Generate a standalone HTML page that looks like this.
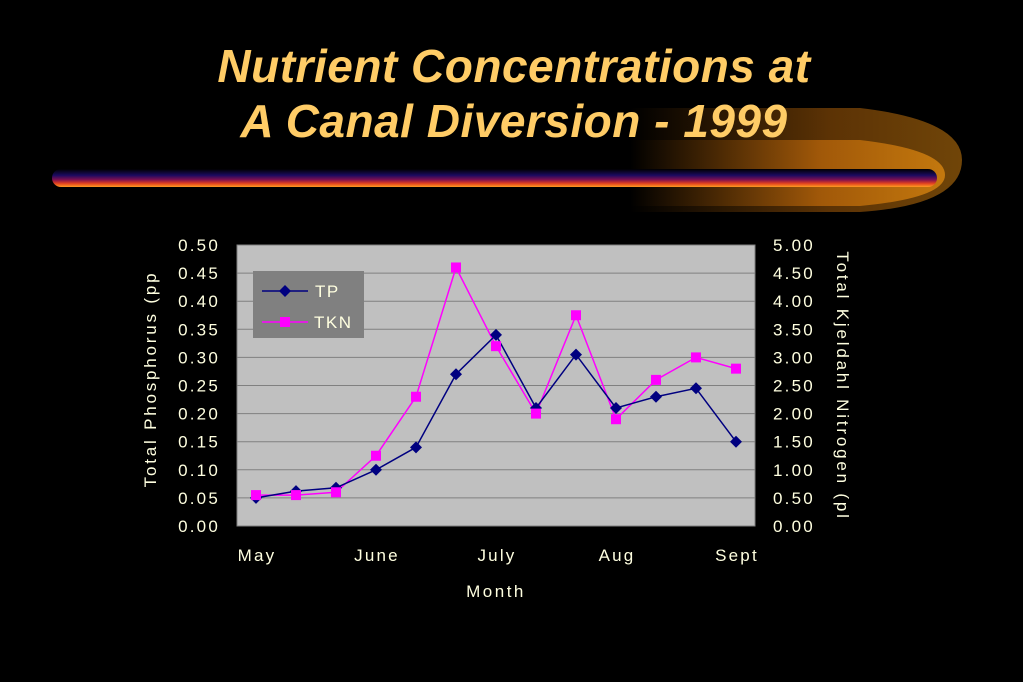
<!DOCTYPE html>
<html><head><meta charset="utf-8"><style>
body{margin:0;background:#000;width:1023px;height:682px;overflow:hidden;font-family:"Liberation Sans",sans-serif}
svg{display:block}
</style></head><body>
<svg width="1023" height="682">
<defs>
<linearGradient id="sw" x1="0" x2="1" y1="0" y2="0">
<stop offset="0" stop-color="#000"/><stop offset="0.6" stop-color="#b8650a"/><stop offset="1" stop-color="#e08a10"/></linearGradient>
<linearGradient id="bar" x1="0" x2="0" y1="0" y2="1">
<stop offset="0" stop-color="#000"/><stop offset="0.35" stop-color="#1a0a60"/><stop offset="0.6" stop-color="#801050"/><stop offset="0.8" stop-color="#e04020"/><stop offset="1" stop-color="#ff9a20"/></linearGradient>
</defs>
<g>
<path d="M630 108 L860 108 Q962 120 962 160 Q962 205 860 212 L630 212 Z" fill="url(#sw)" opacity="0.5"/>
<path d="M630 140 L860 140 Q945 150 945 175 Q945 198 860 206 L630 206 Z" fill="url(#sw)" opacity="0.75"/>
<rect x="52" y="169" width="885" height="18" rx="9" fill="url(#bar)"/>
</g>
<text x="514" y="82" text-anchor="middle" font-size="46" font-weight="bold" font-style="italic" fill="#ffcc66" letter-spacing="0.5">Nutrient Concentrations at</text>
<text x="514" y="137" text-anchor="middle" font-size="46" font-weight="bold" font-style="italic" fill="#ffcc66" letter-spacing="0.5">A Canal Diversion - 1999</text>
<g id="chart"></g>
</svg>
<script>
const categories=["May","","","June","","","July","","","Aug","","","Sept"];
const tpValues=[0.05,0.062,0.068,0.10,0.14,0.27,0.34,0.21,0.305,0.21,0.23,0.245,0.15];
const tknValues=[0.55,0.55,0.6,1.25,2.3,4.6,3.2,2.0,3.75,1.9,2.6,3.0,2.8];
const leftTicks=["0.00","0.05","0.10","0.15","0.20","0.25","0.30","0.35","0.40","0.45","0.50"];
const rightTicks=["0.00","0.50","1.00","1.50","2.00","2.50","3.00","3.50","4.00","4.50","5.00"];
const NS="http://www.w3.org/2000/svg";
const g=document.getElementById('chart');
const L=237,R=755,T=245,B=526,TXT="#ffffe0",LS=2.2;
const x=i=>256+i*(736-256)/(categories.length-1);
const yl=v=>B-(v/0.5)*(B-T);
const yr=v=>B-(v/5)*(B-T);
function mk(tag,attrs,txt){const e=document.createElementNS(NS,tag);for(const k in attrs)e.setAttribute(k,attrs[k]);if(txt!==undefined)e.textContent=txt;g.appendChild(e);return e;}
let e=mk('rect',{x:L,y:T,width:R-L,height:B-T,fill:'#c0c0c0',stroke:'#808080'});

leftTicks.forEach((t,i)=>{const v=i*0.05,y=yl(v);
 if(i>0&&i<leftTicks.length-1){const l=mk('line',{x1:L,x2:R,y1:y,y2:y,stroke:'#808080'});}
 const a=mk('text',{x:220,y:y+6,'text-anchor':'end','font-size':17,'letter-spacing':LS,fill:TXT},t);});
rightTicks.forEach((t,i)=>{const y=yr(i*0.5);
 const a=mk('text',{x:773,y:y+6,'font-size':17,'letter-spacing':LS,fill:TXT},t);});
categories.forEach((c,i)=>{if(!c)return;const a=mk('text',{x:x(i)+1,y:561,'text-anchor':'middle','font-size':17,'letter-spacing':LS,fill:TXT},c);});
e=mk('text',{x:496,y:597,'text-anchor':'middle','font-size':17,'letter-spacing':2.5,fill:TXT},'Month');
e=mk('text',{x:0,y:0,'text-anchor':'middle','font-size':17,'letter-spacing':2.8,fill:TXT,transform:'translate(156 379) rotate(-90)'},'Total Phosphorus (pp');
e=mk('text',{x:0,y:0,'text-anchor':'middle','font-size':17,'letter-spacing':2.8,fill:TXT,transform:'translate(837 386) rotate(90)'},'Total Kjeldahl Nitrogen (pl');
e=mk('polyline',{points:tknValues.map((v,i)=>x(i)+','+yr(v)).join(' '),fill:'none',stroke:'#ff00ff','stroke-width':1.5});
e=mk('polyline',{points:tpValues.map((v,i)=>x(i)+','+yl(v)).join(' '),fill:'none',stroke:'#000080','stroke-width':1.5});
tpValues.forEach((v,i)=>{const cx=x(i),cy=yl(v);const p=mk('polygon',{points:`${cx},${cy-6} ${cx+6},${cy} ${cx},${cy+6} ${cx-6},${cy}`,fill:'#000080'});});
tknValues.forEach((v,i)=>{const cx=x(i),cy=yr(v);const p=mk('rect',{x:cx-5,y:cy-5,width:10,height:10,fill:'#ff00ff'});});
e=mk('rect',{x:253,y:271,width:111,height:67,fill:'#808080'});
mk('line',{x1:262,x2:308,y1:291,y2:291,stroke:'#000080','stroke-width':1.5});
mk('polygon',{points:'285,285 291,291 285,297 279,291',fill:'#000080'});
e=mk('text',{x:315,y:297,'font-size':17,'letter-spacing':1.5,fill:TXT},'TP');
mk('line',{x1:262,x2:308,y1:322,y2:322,stroke:'#ff00ff','stroke-width':1.5});
mk('rect',{x:280,y:317,width:10,height:10,fill:'#ff00ff'});
e=mk('text',{x:314,y:328,'font-size':17,'letter-spacing':1.5,fill:TXT},'TKN');
</script>
</body></html>
